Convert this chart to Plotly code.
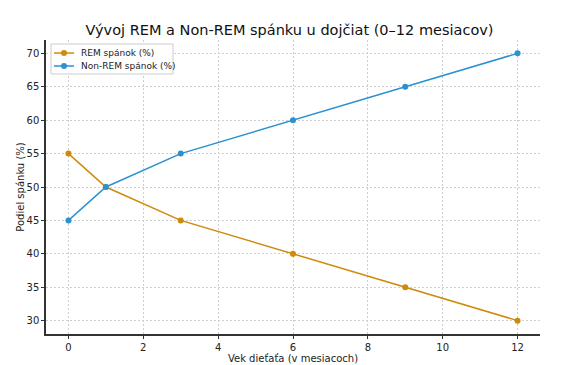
import plotly.graph_objects as go

months = [0, 1, 3, 6, 9, 12]
rem = [55, 50, 45, 40, 35, 30]
non_rem = [45, 50, 55, 60, 65, 70]
series_names = ["REM spánok (%)", "Non-REM spánok (%)"]

x_ticks = [0, 2, 4, 6, 8, 10, 12]
y_ticks = [30, 35, 40, 45, 50, 55, 60, 65, 70]

REM_COLOR = "#cf8a0c"
NONREM_COLOR = "#2b92d2"
colors = [REM_COLOR, NONREM_COLOR]

W, H = 569, 365
OFF = 8  # page body margin offset
# plot area in window pixels: x 46..540, y 40..334
L = 46 - OFF
T = 40 - OFF
R = W - (540 - OFF)
B = H - (334 - OFF)
PW = W - L - R
PH = H - T - B


def fx(px):  # window px -> paper x
    return (px - OFF - L) / PW


def fy(py):  # window px -> paper y
    return (H - B - (py - OFF)) / PH


fig = go.Figure()
for name, ys, c in zip(series_names, [rem, non_rem], colors):
    fig.add_trace(go.Scatter(x=months, y=ys, mode="lines+markers", name=name,
                             line=dict(color=c, width=1.5),
                             marker=dict(color=c, size=6), showlegend=False))

# compact legend box like the reference
shapes = [dict(type="rect", xref="paper", yref="paper", layer="above",
               x0=fx(51), x1=fx(173), y0=fy(74), y1=fy(44),
               line=dict(color="#cccccc", width=1), fillcolor="rgba(255,255,255,0.9)")]
annotations = []
for i, (name, c) in enumerate(zip(series_names, colors)):
    yp = 53 + i * 13
    yy = fy(yp)
    shapes.append(dict(type="line", xref="paper", yref="paper", layer="above",
                       x0=fx(54), x1=fx(74), y0=yy, y1=yy,
                       line=dict(color=c, width=1.5)))
    rx = 3 / PW
    ry = 3 / PH
    xc = fx(64)
    shapes.append(dict(type="circle", xref="paper", yref="paper", layer="above",
                       x0=xc - rx, x1=xc + rx, y0=yy - ry, y1=yy + ry,
                       line=dict(color=c, width=0), fillcolor=c))
    annotations.append(dict(text=name, xref="paper", yref="paper", showarrow=False,
                            x=fx(79), y=yy, xanchor="left", yanchor="middle",
                            font=dict(size=9, color="#222")))

font = "DejaVu Sans"
fig.update_layout(
    width=W, height=H,
    margin=dict(l=L, r=R, t=T, b=B, autoexpand=False),
    paper_bgcolor="white", plot_bgcolor="white",
    font=dict(family=font, size=10, color="#222"),
    title=dict(text="Vývoj REM a Non-REM spánku u dojčiat (0–12 mesiacov)",
               x=(289.5 - OFF) / W, xanchor="center", y=1 - (30 - OFF) / H, yanchor="middle",
               font=dict(size=14.5, color="#111")),
    showlegend=False,
    shapes=shapes,
    annotations=annotations,
)
fig.update_xaxes(range=[-0.6, 12.6], tickvals=x_ticks, showgrid=True, automargin=False,
                 gridcolor="#cfcfcf", griddash="2px,2px", gridwidth=1,
                 showline=True, linecolor="#333", linewidth=1.5, zeroline=False,
                 ticks="outside", ticklen=3, tickcolor="#333",
                 title=dict(text="Vek dieťaťa (v mesiacoch)", font=dict(size=10), standoff=2),
                 tickfont=dict(size=10))
fig.update_yaxes(range=[28, 72], tickvals=y_ticks, showgrid=True, automargin=False,
                 gridcolor="#cfcfcf", griddash="2px,2px", gridwidth=1,
                 showline=True, linecolor="#333", linewidth=1.5, zeroline=False,
                 ticks="outside", ticklen=3, tickcolor="#333",
                 title=dict(text="Podiel spánku (%)", font=dict(size=10), standoff=0),
                 tickfont=dict(size=10))

fig.write_html("out.html")
